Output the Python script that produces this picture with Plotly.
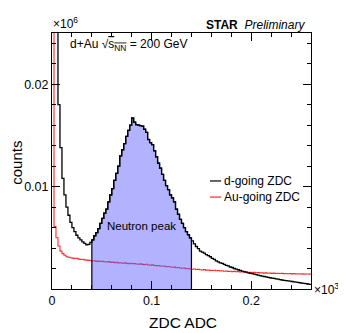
import numpy as np
import plotly.graph_objects as go

# ZDC ADC histogram, bin width 2 ADC counts, 0 - 260
bin_width = 2
bin_edges = np.arange(0, 260 + bin_width, bin_width)

# counts per bin, in thousands
d_going = [
    90, 60, 35, 18.0, 13.8, 10.8, 9.2, 8.0, 7.2, 6.5,
    6.0, 5.6, 5.25, 5.0, 4.8, 4.6, 4.45, 4.3, 4.35, 4.55,
    4.8, 5.2, 5.5, 5.9, 6.4, 6.9, 7.4, 7.8, 8.5, 9.2,
    9.8, 10.6, 11.3, 12.0, 13.0, 13.6, 14.2, 14.9, 15.5, 16.0,
    16.7, 16.3, 16.05, 16.0, 15.95, 15.9, 15.6, 15.3, 14.6, 14.3,
    14.1, 13.5, 12.9, 12.3, 11.8, 11.2, 10.6, 10.1, 9.7, 9.2,
    8.9, 8.5, 7.8, 7.3, 6.8, 6.4, 6.0, 5.6, 5.3, 5.0,
    4.7, 4.4, 4.15, 3.95, 3.7, 3.6, 3.5, 3.35, 3.25, 3.15,
    3.0, 2.9, 2.75, 2.65, 2.55, 2.5, 2.4, 2.3, 2.25, 2.15,
    2.1, 2.0, 1.95, 1.88, 1.82, 1.75, 1.7, 1.64, 1.58, 1.54,
    1.5, 1.45, 1.4, 1.35, 1.3, 1.26, 1.22, 1.18, 1.14, 1.1,
    1.06, 1.03, 0.99, 0.96, 0.92, 0.88, 0.85, 0.82, 0.79, 0.76,
    0.73, 0.7, 0.67, 0.64, 0.61, 0.58, 0.55, 0.52, 0.49, 0.46,
]
au_going = [
    40, 6.1, 5.0, 4.2, 3.7, 3.45, 3.3, 3.15, 3.1, 3.05,
    3.02, 2.98, 3.0, 2.92, 2.88, 2.9, 2.84, 2.82, 2.8, 2.78,
    2.74, 2.76, 2.7, 2.72, 2.68, 2.7, 2.66, 2.64, 2.67, 2.6,
    2.62, 2.58, 2.6, 2.55, 2.57, 2.52, 2.55, 2.5, 2.48, 2.52,
    2.46, 2.48, 2.44, 2.42, 2.45, 2.4, 2.38, 2.41, 2.35, 2.33,
    2.36, 2.3, 2.28, 2.3, 2.25, 2.22, 2.24, 2.18, 2.2, 2.15,
    2.12, 2.14, 2.08, 2.1, 2.05, 2.02, 2.04, 1.98, 2.0, 1.95,
    1.93, 1.96, 1.9, 1.92, 1.88, 1.86, 1.89, 1.84, 1.86, 1.82,
    1.8, 1.83, 1.78, 1.8, 1.76, 1.78, 1.74, 1.76, 1.72, 1.74,
    1.7, 1.72, 1.68, 1.7, 1.66, 1.68, 1.64, 1.66, 1.62, 1.63,
    1.6, 1.62, 1.58, 1.6, 1.57, 1.59, 1.55, 1.57, 1.54, 1.56,
    1.53, 1.55, 1.52, 1.54, 1.51, 1.53, 1.5, 1.52, 1.49, 1.51,
    1.48, 1.5, 1.47, 1.49, 1.46, 1.48, 1.45, 1.47, 1.46, 1.45,
]

# neutron peak window (ADC)
peak_lo, peak_hi = 40, 140

series_names = ["d-going ZDC", "Au-going ZDC"]
series_colors = ["black", "#ff2a2a"]


def step_xy(vals):
    # x in units of 10^3 ADC, y in units of 10^6 counts
    x = bin_edges / 1e3
    y = np.append(vals, vals[-1]) / 1e3
    return x, y


fig = go.Figure()

xa, ya = step_xy(au_going)
fig.add_trace(go.Scatter(x=xa, y=ya, mode="lines", line_shape="hv",
                         line=dict(color=series_colors[1], width=1.1)))

# filled neutron peak
i0 = peak_lo // bin_width
i1 = peak_hi // bin_width
xd, yd = step_xy(d_going)
xf = np.concatenate([[xd[i0]], xd[i0:i1 + 1], [xd[i1]]])
yf = np.concatenate([[0], yd[i0:i1], [yd[i1 - 1]], [0]])
fig.add_trace(go.Scatter(x=xf, y=yf, mode="lines", line_shape="hv",
                         fill="toself", fillcolor="rgba(95,95,255,0.48)",
                         line=dict(color="black", width=1.2)))

fig.add_trace(go.Scatter(x=xd, y=yd, mode="lines", line_shape="hv",
                         line=dict(color=series_colors[0], width=1.3)))

axis_common = dict(
    showline=True, linecolor="black", linewidth=1, mirror="allticks",
    ticks="inside", tickcolor="black", ticklen=8, tickwidth=1,
    showgrid=False, zeroline=False,
    tickfont=dict(size=12.5),
)

fig.update_xaxes(range=[0, 0.26], tickvals=[0, 0.1, 0.2], ticktext=["0", "0.1", "0.2"],
                 minor=dict(dtick=0.02, tick0=0, ticklen=4, ticks="inside", tickcolor="black"),
                 **axis_common)
fig.update_yaxes(range=[0, 0.025], tickvals=[0.01, 0.02], ticktext=["0.01", "0.02"],
                 minor=dict(dtick=0.002, tick0=0, ticklen=4, ticks="inside", tickcolor="black"),
                 **axis_common)

annos = [
    dict(text="×10<sup>6</sup>", x=-0.005, y=1.0, xanchor="left", yanchor="bottom", font=dict(size=12)),
    dict(text="×10<sup>3</sup>", x=1.004, y=0.0, xanchor="left", yanchor="middle", font=dict(size=12)),
    dict(text="<b>STAR</b>  <i>Preliminary</i>", x=0.985, y=1.031, xanchor="right", yanchor="middle",
         font=dict(size=12)),
    dict(text="d+Au √<span style='text-decoration:overline'>s<sub>NN</sub></span> = 200 GeV",
         x=0.062, y=0.953, xanchor="left", yanchor="middle", font=dict(size=12)),
    dict(text="Neutron peak", x=0.344, y=0.246, xanchor="center", yanchor="middle", font=dict(size=11.5)),
    dict(text=series_names[0], x=0.656, y=0.422, xanchor="left", yanchor="middle", font=dict(size=12)),
    dict(text=series_names[1], x=0.656, y=0.359, xanchor="left", yanchor="middle", font=dict(size=12)),
    dict(text="counts", x=-0.14, y=0.492, textangle=-90, xanchor="center", yanchor="middle",
         font=dict(size=15)),
    dict(text="ZDC ADC", x=0.506, y=-0.129, xanchor="center", yanchor="middle", font=dict(size=15.5)),
]
for a in annos:
    fig.add_annotation(xref="paper", yref="paper", showarrow=False, **a)

for yy, col in [(0.422, series_colors[0]), (0.359, series_colors[1])]:
    fig.add_shape(type="line", xref="paper", yref="paper", x0=0.610, x1=0.653, y0=yy, y1=yy,
                  line=dict(color=col, width=1.2))

# the page body adds an 8px margin, so the figure is 8px smaller
fig.update_layout(
    width=338, height=325,
    margin=dict(l=44, r=35, t=25, b=44),
    plot_bgcolor="white", paper_bgcolor="white",
    showlegend=False,
    font=dict(family="Liberation Sans, Arial, sans-serif", size=12, color="black"),
)

fig.write_html("out.html")
